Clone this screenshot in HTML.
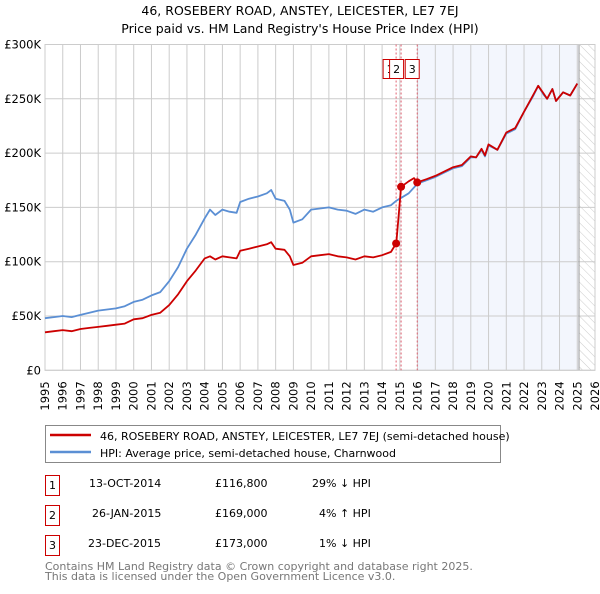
<!DOCTYPE html>
<html><head><meta charset="utf-8">
<style>
body{margin:0;background:#fff;font-family:"DejaVu Sans","Liberation Sans",sans-serif;}
svg text{font-family:"DejaVu Sans","Liberation Sans",sans-serif;}
</style></head>
<body>
<svg id="c" width="600" height="590" xmlns="http://www.w3.org/2000/svg">
<defs>
<pattern id="hatch" width="6" height="6" patternUnits="userSpaceOnUse" patternTransform="rotate(-45)">
<line x1="0" y1="0" x2="0" y2="6" stroke="#ccc" stroke-width="1"/></pattern>
</defs>
<text x="300" y="15" text-anchor="middle" font-size="12.5">46, ROSEBERY ROAD, ANSTEY, LEICESTER, LE7 7EJ</text>
<text x="300" y="33" text-anchor="middle" font-size="12.5">Price paid vs. HM Land Registry's House Price Index (HPI)</text>
<g id="plot"></g>
<g>
<rect x="45.5" y="425.5" width="455" height="37" fill="#fff" stroke="#888"/>
<line x1="50" y1="435" x2="91" y2="435" stroke="#cc0000" stroke-width="2.5"/>
<text x="100" y="440" font-size="11">46, ROSEBERY ROAD, ANSTEY, LEICESTER, LE7 7EJ (semi-detached house)</text>
<line x1="50" y1="452" x2="91" y2="452" stroke="#5b8fd4" stroke-width="2.5"/>
<text x="100" y="457" font-size="11">HPI: Average price, semi-detached house, Charnwood</text>
</g>
<g font-size="11">
<rect x="45.5" y="475.5" width="14" height="20" fill="#fff" stroke="#cc0000"/>
<text x="52.5" y="489" text-anchor="middle">1</text>
<text x="89" y="487">13-OCT-2014</text><text x="215" y="487">£116,800</text><text x="312" y="487">29% ↓ HPI</text>
<rect x="45.5" y="505.5" width="14" height="20" fill="#fff" stroke="#cc0000"/>
<text x="52.5" y="519" text-anchor="middle">2</text>
<text x="92" y="517">26-JAN-2015</text><text x="215" y="517">£169,000</text><text x="319" y="517">4% ↑ HPI</text>
<rect x="45.5" y="535.5" width="14" height="20" fill="#fff" stroke="#cc0000"/>
<text x="52.5" y="549" text-anchor="middle">3</text>
<text x="88" y="547">23-DEC-2015</text><text x="215" y="547">£173,000</text><text x="319" y="547">1% ↓ HPI</text>
</g>
<text x="45" y="570" font-size="11" fill="#777">Contains HM Land Registry data © Crown copyright and database right 2025.</text>
<text x="45" y="580" font-size="11" fill="#777">This data is licensed under the Open Government Licence v3.0.</text>
</svg>
<script>
const hpiYears=[1995,1995.5,1996,1996.5,1997,1997.5,1998,1998.5,1999,1999.5,2000,2000.5,2001,2001.5,2002,2002.5,2003,2003.5,2004,2004.3,2004.6,2005,2005.4,2005.8,2006,2006.5,2007,2007.5,2007.75,2008,2008.5,2008.8,2009,2009.5,2010,2010.5,2011,2011.5,2012,2012.5,2013,2013.5,2014,2014.5,2014.79,2015,2015.5,2016,2016.5,2017,2017.5,2018,2018.5,2019,2019.3,2019.6,2019.8,2020,2020.5,2021,2021.5,2022,2022.5,2022.8,2023.1,2023.3,2023.6,2023.8,2024.2,2024.6,2025];
const hpiValues=[48,49,50,49,51,53,55,56,57,59,63,65,69,72,82,95,112,125,140,148,143,148,146,145,155,158,160,163,166,158,156,148,136,139,148,149,150,148,147,144,148,146,150,152,156,158,163,172,175,178,182,186,188,196,196,203,197,207,203,218,222,238,252,262,254,250,259,248,256,253,264];
const priceYears=[1995,1995.5,1996,1996.5,1997,1997.5,1998,1998.5,1999,1999.5,2000,2000.5,2001,2001.5,2002,2002.5,2003,2003.5,2004,2004.3,2004.6,2005,2005.4,2005.8,2006,2006.5,2007,2007.5,2007.75,2008,2008.5,2008.8,2009,2009.5,2010,2010.5,2011,2011.5,2012,2012.5,2013,2013.5,2014,2014.5,2014.79,2014.8,2015.07,2015.5,2015.8,2015.98,2016.5,2017,2017.5,2018,2018.5,2019,2019.3,2019.6,2019.8,2020,2020.5,2021,2021.5,2022,2022.5,2022.8,2023.1,2023.3,2023.6,2023.8,2024.2,2024.6,2025];
const priceValues=[35,36,37,36,38,39,40,41,42,43,47,48,51,53,60,70,82,92,103,105,102,105,104,103,110,112,114,116,118,112,111,105,97,99,105,106,107,105,104,102,105,104,106,109,116.8,117,169,174,177,173,176,179,183,187,189,197,196,204,198,208,203,219,223,238,253,262,255,250,259,248,256,253,264];
const sales=[{id:"1",x:2014.79,v:116.8},{id:"2",x:2015.07,v:169},{id:"3",x:2015.98,v:173}];
const yTicks=[0,50,100,150,200,250,300];
const yTickLabels=["£0","£50K","£100K","£150K","£200K","£250K","£300K"];
const xTicks=[];for(let y=1995;y<=2026;y++)xTicks.push(y);

const X0=45,X1=595,Y0=370.3,Y1=44.5;
const sx=y=>X0+(y-1995)*(X1-X0)/31;
const sy=v=>Y0-(v/300)*(Y0-Y1);
const NS="http://www.w3.org/2000/svg";
const g=document.getElementById('plot');
function mk(t,a){const e=document.createElementNS(NS,t);for(const k in a)e.setAttribute(k,a[k]);g.appendChild(e);return e;}

let e;
e=mk('rect',{x:sx(2016),y:Y1,width:sx(2025.1)-sx(2016),height:Y0-Y1,fill:'#eef2fc',opacity:0.7});


e=mk('rect',{x:sx(2025.1),y:Y1,width:X1-sx(2025.1),height:Y0-Y1,fill:'url(#hatch)'});


xTicks.forEach(y=>{
 e=mk('line',{x1:sx(y),x2:sx(y),y1:Y1,y2:Y0,stroke:'#ccc','stroke-width':1});
 
 
 const tx=sx(y)+4, ty=Y0+11;
 e=mk('text',{x:tx,y:ty,'text-anchor':'end','font-size':11.5,transform:'rotate(-90 '+tx+' '+ty+')'});
 e.textContent=y;
 
 
});
yTicks.forEach((v,i)=>{
 e=mk('line',{x1:X0,x2:X1,y1:sy(v),y2:sy(v),stroke:'#ccc','stroke-width':1});
 
 
 e=mk('text',{x:X0-4,y:sy(v)+4,'text-anchor':'end','font-size':11.5});
 e.textContent=yTickLabels[i];
 
 
});
e=mk('line',{x1:sx(2025.1),x2:sx(2025.1),y1:Y1,y2:Y0,stroke:'#999','stroke-width':1});


e=mk('rect',{x:X0,y:Y1,width:X1-X0,height:Y0-Y1,fill:'none',stroke:'#ccc'});


sales.forEach(s=>{
 e=mk('line',{x1:sx(s.x),x2:sx(s.x),y1:Y1,y2:Y0,stroke:'#e06070','stroke-width':1,'stroke-dasharray':'2,2'});
 
 
});
function path(xs,vs,col,name){
 const d=xs.map((x,i)=>(i?'L':'M')+sx(x).toFixed(1)+','+sy(vs[i]).toFixed(1)).join('');
 const p=mk('path',{d:d,fill:'none',stroke:col,'stroke-width':1.8,'stroke-linejoin':'round'});
 
 
}
path(hpiYears,hpiValues,'#5b8fd4','hpi-line');
path(priceYears,priceValues,'#cc0000','price-paid-line');
sales.forEach(s=>{
 e=mk('circle',{cx:sx(s.x),cy:sy(s.v),r:4,fill:'#cc0000'});
 
 
});
const boxOff=[-6,-4.5,-5];
sales.forEach((s,i)=>{
 const cx=sx(s.x)+boxOff[i];
 e=mk('rect',{x:cx-7,y:59.5,width:14,height:19,fill:'#fff',stroke:'#cc0000'});
 
 
 e=mk('text',{x:cx,y:73,'text-anchor':'middle','font-size':11});
 e.textContent=s.id;
 
 
});
</script>
</body></html>
